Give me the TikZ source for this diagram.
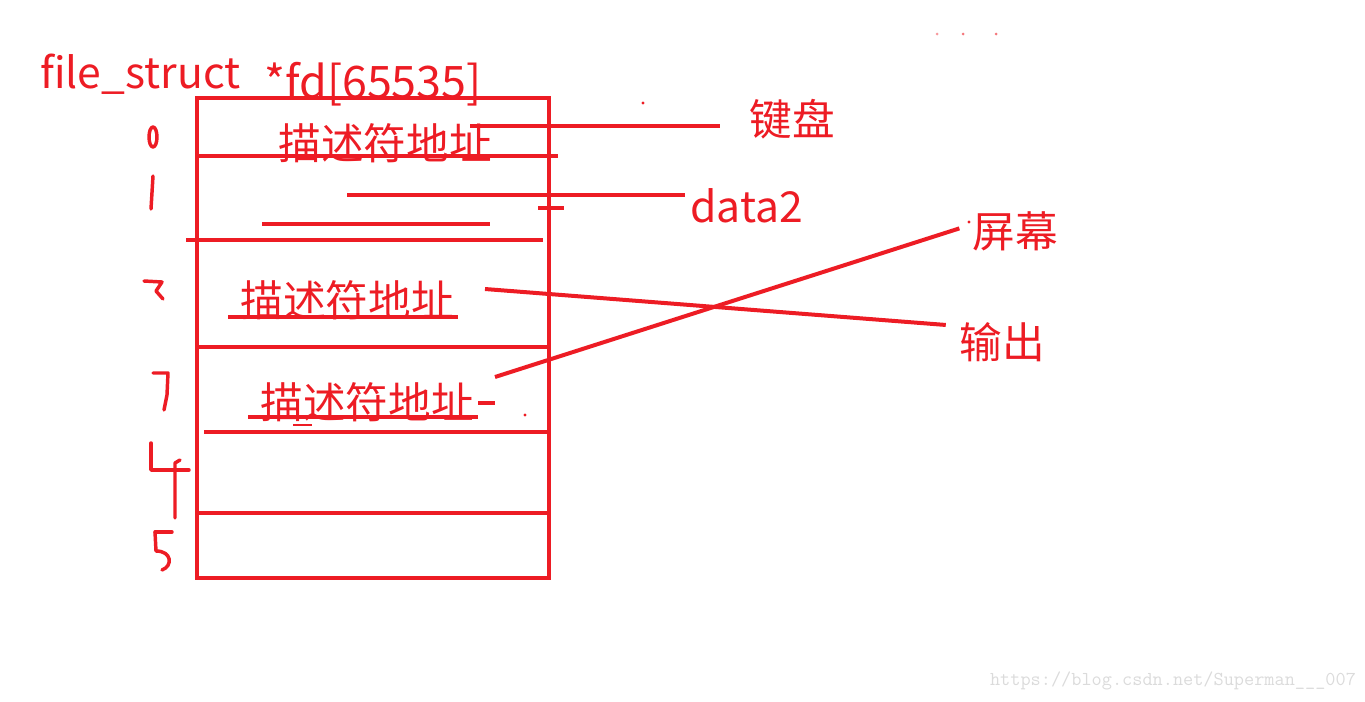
\documentclass[tikz,border=0pt]{standalone}
\usepackage{fontspec}
\setmainfont{Noto Sans CJK SC}
\usepackage{tikz}
\definecolor{pen}{HTML}{ED1C24}

\begin{document}
\begin{tikzpicture}[x=0.75pt, y=-0.75pt,
  txt/.style={text=pen, inner sep=0pt, font=\fontsize{32}{34}\selectfont},
  ln/.style={draw=pen, line width=3pt},
  hand/.style={draw=pen, line width=2.6pt, line cap=round, line join=round},
  dot/.style={fill=pen}
]
\useasboundingbox (0,0) rectangle (1365,701);

% headings
\node[txt, anchor=base west] (ft) at (40,88) {file\_struct};
\node[txt, anchor=base west, font=\fontsize{33.6}{36}\selectfont] (fd) at (264,98) {*fd[65535]};

% cell texts
\node[txt] (c0) at (385,143) {描述符地址};
\node[txt] (c2) at (347,300) {描述符地址};
\node[txt] (c3) at (367,402) {描述符地址};

% devices
\node[txt] (kb) at (792,119) {键盘};
\node[txt, anchor=base west] (d2) at (690,222) {data2};
\node[txt] (scr) at (1015,231) {屏幕};
\node[txt] (out) at (1002,342) {输出};

% the fd table
\draw[ln] (197,98) rectangle (549,578);
\draw[ln] (197,156) -- (558,156);
\draw[ln] (186,240) -- (543,240);
\foreach \y in {347,513} \draw[ln] (197,\y) -- (549,\y);
\draw[ln] (204,432) -- (549,432);
\draw[ln] (538,208) -- (564,208);

% underlines
\draw[ln] (262,224) -- (490,224);
\draw[ln] (228,317) -- (458,317);
\draw[ln] (248,417) -- (478,417);
\draw[ln] (478,403) -- (495,403);
\draw[ln, line width=2pt] (293,425) -- (312,425);

% leaders
\coordinate (p0) at (470,126);
\coordinate (p1) at (347,195);
\coordinate (p2) at (485,289);
\coordinate (p3) at (495,377);
\draw[ln, shorten >=22pt] (p0) -- (p0 -| kb.west);
\draw[ln, shorten >=4pt] (p1) -- (p1 -| d2.west);
\draw[ln, shorten >=10pt] (p3) -- ([yshift=5pt]scr.west);
\draw[ln, shorten >=10pt] (p2) -- ([yshift=12pt]out.west);

% hand-written row numbers
\draw[hand] (153,137) ellipse [x radius=4, y radius=10];
\draw[hand] (153,176) -- (151,209);
\draw[hand] (144,281) -- (162,282) -- (156,291) -- (163,299);
\draw[hand] (153,373) -- (168,373) -- (167,395) -- (164,410);
\draw[hand] (151,443) -- (151,470) -- (189,470);
\draw[hand] (180,460) -- (175,463) -- (175,518);
\draw[hand] (155,532) -- (172,532);
\draw[hand] (155,532) -- (156,551) .. controls (172,551) and (173,566) .. (162,570);

% stray marks
\fill[dot] (643,103) circle (1.6);
\fill[dot] (525,415) circle (1.6);
\fill[dot] (969,222) circle (1.6);
\fill[pen!45] (937,34) circle (1.5);
\fill[pen!60] (963,34) circle (1.5);
\fill[pen!60] (996,34) circle (1.5);

% watermark
\node[text=black!14, font=\ttfamily\fontsize{14.8}{16}\selectfont, inner sep=0pt] (wm) at (1173,681) {https://blog.csdn.net/Superman\_\_\_007};
\end{tikzpicture}
\end{document}
